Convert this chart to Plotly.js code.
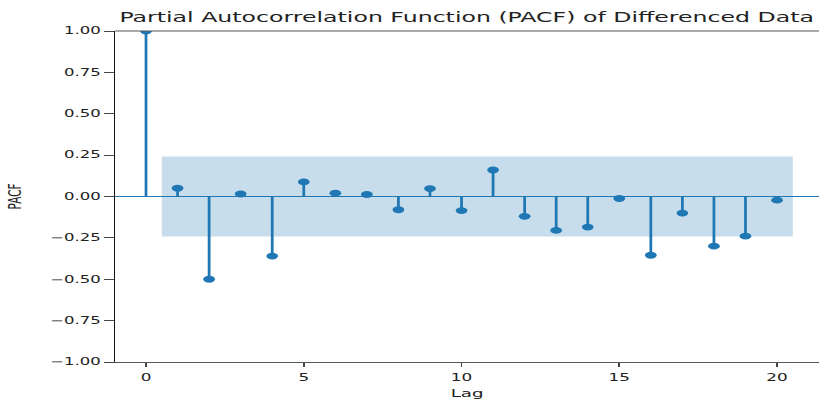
<!DOCTYPE html>
<html>
<head>
<meta charset="utf-8">
<script src="https://cdn.plot.ly/plotly-3.0.1.min.js"></script>
<style>
  html, body { margin: 0; padding: 0; background: #fff; overflow: hidden; }
  #wrap { width: 819px; height: 399px; overflow: hidden; }
  #chart { width: 476px; height: 399px; transform: scaleX(1.7206); transform-origin: 0 0; }
</style>
</head>
<body>
<div id="wrap"><div id="chart"></div></div>
<script>
// Data
const lags = [0, 1, 2, 3, 4, 5, 6, 7, 8, 9, 10, 11, 12, 13, 14, 15, 16, 17, 18, 19, 20];
const pacfValues = [1.0, 0.05, -0.50, 0.015, -0.36, 0.088, 0.02, 0.012, -0.08, 0.048, -0.085,
                    0.16, -0.12, -0.205, -0.185, -0.012, -0.355, -0.10, -0.30, -0.24, -0.022];
const confLimit = 0.242;
const xTickVals = [0, 5, 10, 15, 20];
const yTickVals = [-1, -0.75, -0.5, -0.25, 0, 0.25, 0.5, 0.75, 1];

const blue = '#1f77b4';

// confidence band over lags 1..N, extended by half a lag at each end
const bandLags = lags.slice(1);
const bandX = bandLags.map((l, i) => i === 0 ? l - 0.5 : (i === bandLags.length - 1 ? l + 0.5 : l));
const bandXPoly = bandX.concat(bandX.slice().reverse());
const bandYPoly = bandX.map(() => confLimit).concat(bandX.map(() => -confLimit));

const stemX = [], stemY = [];
lags.forEach((l, i) => { stemX.push(l, l, null); stemY.push(0, pacfValues[i], null); });

const traces = [
  { x: bandXPoly, y: bandYPoly, type: 'scatter', mode: 'lines', fill: 'toself',
    fillcolor: 'rgba(31,119,180,0.25)', line: { width: 0 }, hoverinfo: 'skip', showlegend: false },
  { x: stemX, y: stemY, type: 'scatter', mode: 'lines', line: { color: blue, width: 1.6 },
    hoverinfo: 'skip', showlegend: false },
  { x: lags, y: pacfValues, type: 'scatter', mode: 'markers',
    marker: { color: blue, size: 6.8 }, showlegend: false }
];

const layout = {
  width: 476, height: 399,
  margin: { l: 67, r: 0, t: 31, b: 37 },
  paper_bgcolor: '#fff', plot_bgcolor: '#fff',
  font: { family: 'DejaVu Sans, sans-serif', color: '#222' },
  title: {
    text: 'Partial Autocorrelation Function (PACF) of Differenced Data',
    font: { size: 13.75, color: '#222' },
    xref: 'container', x: 0.1458, xanchor: 'left',
    yref: 'container', y: 1 - 17.5 / 399, yanchor: 'middle'
  },
  xaxis: {
    range: [-0.974, 21.33],
    tickmode: 'array', tickvals: xTickVals,
    ticks: 'outside', ticklen: 4, tickwidth: 1, tickcolor: '#444',
    ticklabelstandoff: 2,
    showgrid: false, zeroline: false,
    showline: true, linecolor: '#555', linewidth: 1.2,
    tickfont: { size: 9.8, color: '#222' },
    title: { text: 'Lag', font: { size: 10.6, color: '#222' }, standoff: 9 }
  },
  yaxis: {
    range: [-1, 1],
    tickmode: 'array', tickvals: yTickVals, tickformat: '.2f',
    ticks: 'outside', ticklen: 5.5, tickwidth: 1, tickcolor: '#444',
    showgrid: false,
    zeroline: true, zerolinecolor: blue, zerolinewidth: 1.4,
    showline: true, linecolor: '#111', linewidth: 1,
    tickfont: { size: 9.6, color: '#222' },
    title: { text: 'PACF', font: { size: 10.4, color: '#222' }, standoff: 14 }
  },
  shapes: [
    { type: 'line', xref: 'paper', yref: 'paper', x0: 0, x1: 1, y0: 1, y1: 1,
      line: { color: '#555', width: 1.2 } }
  ]
};

Plotly.newPlot('chart', traces, layout, { displayModeBar: false, staticPlot: true });
</script>
</body>
</html>
